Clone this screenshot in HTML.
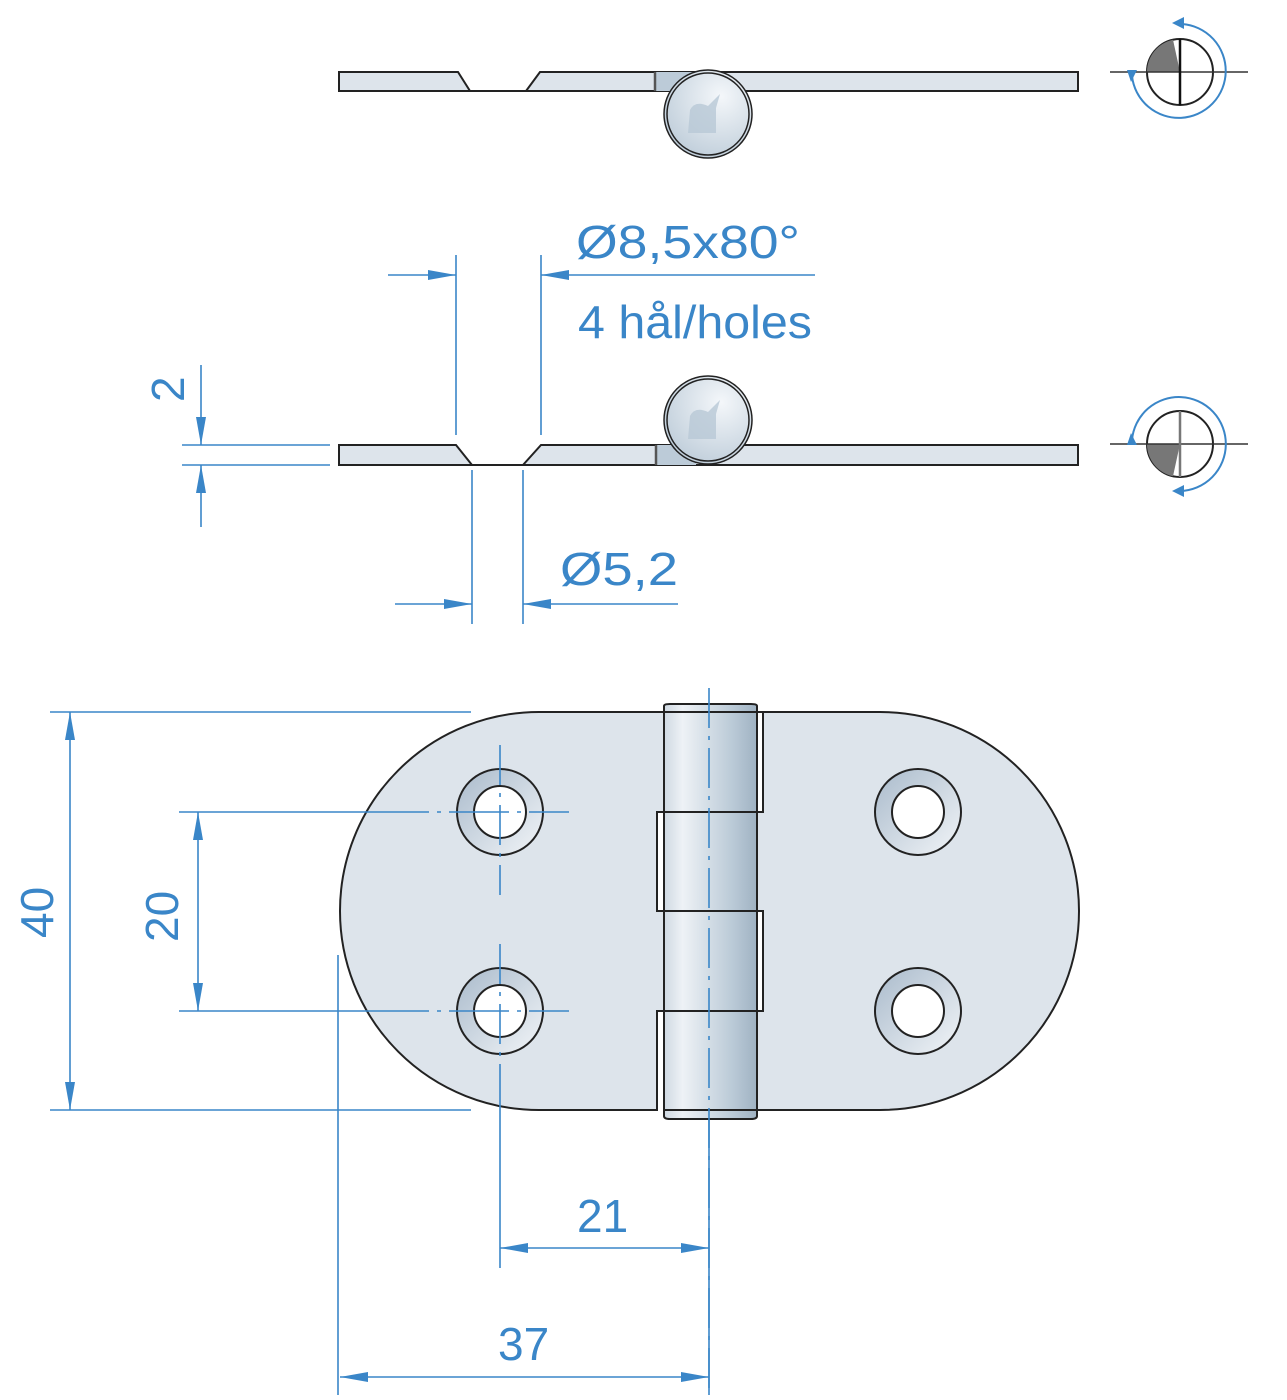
<!DOCTYPE html>
<html><head><meta charset="utf-8"><style>
html,body{margin:0;padding:0;background:#fff}
svg{display:block}
text{font-family:"Liberation Sans Narrow","Liberation Sans",sans-serif;fill:#3a86c8}
</style></head><body>
<svg width="1287" height="1400" viewBox="0 0 1287 1400" xmlns="http://www.w3.org/2000/svg">
<defs>
<linearGradient id="kn" x1="0" x2="1" y1="0" y2="0">
<stop offset="0" stop-color="#cfd9e2"/><stop offset="0.2" stop-color="#eef2f6"/><stop offset="0.75" stop-color="#b9c9d6"/><stop offset="1" stop-color="#9fb2c2"/></linearGradient>
<radialGradient id="ball" cx="0.65" cy="0.3" r="0.8"><stop offset="0" stop-color="#f4f7fa"/><stop offset="1" stop-color="#bccbd8"/></radialGradient>
<linearGradient id="ring" x1="0" x2="1" y1="0" y2="1"><stop offset="0" stop-color="#a9bacb"/><stop offset="1" stop-color="#f2f5f8"/></linearGradient>
<marker id="ar" viewBox="0 0 28 12" refX="28" refY="6" markerWidth="28" markerHeight="12" markerUnits="userSpaceOnUse" orient="auto" preserveAspectRatio="none"><path d="M0,1 L28,6 L0,11z" fill="#3a86c8"/></marker>
</defs>

<!-- ===== Top side view ===== -->
<g stroke="#222" stroke-width="2">
<path d="M339,72 H458 L470,91 H339z" fill="#dde4eb"/>
<path d="M540,72 H1078 V91 H526z" fill="#dde4eb"/>
<rect x="655" y="72" width="40" height="19" fill="#bccbd8" stroke="none"/>
<line x1="655" y1="72" x2="655" y2="91" stroke-width="2.5" stroke="#555"/>
<line x1="470" y1="91" x2="526" y2="91"/>
<circle cx="708" cy="114" r="44" fill="url(#ball)" stroke-width="1.5"/>
<circle cx="708" cy="114" r="41" fill="none" stroke-width="1.5"/>
</g>
<path d="M690,110 q5,-10 18,-4 l12,-12 l-4,14 v25 h-28 z" fill="#b8c8d6" opacity="0.8"/>

<!-- ===== Middle side view ===== -->
<g stroke="#222" stroke-width="2">
<path d="M339,445 H456 L472,465 H339z" fill="#dde4eb"/>
<path d="M541,445 H1078 V465 H523z" fill="#dde4eb"/>
<rect x="656" y="445" width="40" height="20" fill="#bccbd8" stroke="none"/>
<line x1="656" y1="445" x2="656" y2="465" stroke="#555" stroke-width="2.5"/>
<line x1="472" y1="465" x2="523" y2="465"/>
<circle cx="708" cy="420" r="44" fill="url(#ball)" stroke-width="1.5"/>
<circle cx="708" cy="420" r="41" fill="none" stroke-width="1.5"/>
</g>
<path d="M690,416 q5,-10 18,-4 l12,-12 l-4,14 v25 h-28 z" fill="#b8c8d6" opacity="0.8"/>

<!-- dims middle -->
<g stroke="#3a86c8" stroke-width="1.6" fill="none">
<line x1="456" y1="255" x2="456" y2="435"/>
<line x1="541" y1="255" x2="541" y2="435"/>
<line x1="388" y1="275" x2="456" y2="275" marker-end="url(#ar)"/>
<line x1="815" y1="275" x2="541" y2="275" marker-end="url(#ar)"/>
<line x1="472" y1="470" x2="472" y2="624"/>
<line x1="523" y1="470" x2="523" y2="624"/>
<line x1="395" y1="604" x2="472" y2="604" marker-end="url(#ar)"/>
<line x1="678" y1="604" x2="523" y2="604" marker-end="url(#ar)"/>
<line x1="182" y1="445" x2="330" y2="445"/>
<line x1="182" y1="465" x2="330" y2="465"/>
<line x1="201" y1="365" x2="201" y2="445" marker-end="url(#ar)"/>
<line x1="201" y1="527" x2="201" y2="465" marker-end="url(#ar)"/>
</g>
<text x="576" y="258" font-size="46" textLength="224" lengthAdjust="spacingAndGlyphs">Ø8,5x80°</text>
<text x="578" y="338" font-size="46" textLength="234" lengthAdjust="spacingAndGlyphs">4 hål/holes</text>
<text x="560" y="585" font-size="46" textLength="118" lengthAdjust="spacingAndGlyphs">Ø5,2</text>
<text transform="translate(184,402) rotate(-90)" font-size="46">2</text>

<!-- ===== Rotation symbols ===== -->
<g>
<circle cx="1180" cy="72" r="33" fill="#fff" stroke="#222" stroke-width="2"/>
<path d="M1180,72 L1147,72 A33,33 0 0 1 1173,39.7z" fill="#777"/>
<line x1="1110" y1="72" x2="1248" y2="72" stroke="#333" stroke-width="1.5"/>
<line x1="1180" y1="39" x2="1180" y2="105" stroke="#111" stroke-width="2.5"/>
<path d="M1182,24 A47,47 0 1 1 1132,76" fill="none" stroke="#3a86c8" stroke-width="2"/>
<path d="M1172,23 l12,-6 l0,12z" fill="#3a86c8"/>
<path d="M1131,82 l-4,-12 l10,0z" fill="#3a86c8"/>

<circle cx="1180" cy="444" r="33" fill="#fff" stroke="#222" stroke-width="2"/>
<path d="M1180,444 L1147,444 A33,33 0 0 0 1173,476.3z" fill="#777"/>
<line x1="1110" y1="444" x2="1248" y2="444" stroke="#333" stroke-width="1.5"/>
<line x1="1180" y1="411" x2="1180" y2="477" stroke="#777" stroke-width="2.5"/>
<path d="M1132,440 A47,47 0 1 1 1180,491" fill="none" stroke="#3a86c8" stroke-width="2"/>
<path d="M1131,433 l-4,12 l10,0z" fill="#3a86c8"/>
<path d="M1172,491 l12,-6 l0,12z" fill="#3a86c8"/>
</g>

<!-- ===== Plan view ===== -->
<g stroke="#222" stroke-width="2" fill="#dde4eb">
<path d="M664,712 H539 A199,199 0 0 0 539,1110 H657 V1011 H664 V911 H657 V812 H664 Z"/>
<path d="M757,712 H880 A199,199 0 0 1 880,1110 H757 V1011 H763 V911 H757 V812 H763 V712 Z"/>
<path d="M664,712 V706 q0,-2 6,-2 H751 q6,0 6,2 V1116 q0,3 -6,3 H670 q-6,0 -6,-3 Z" fill="url(#kn)"/>
<line x1="657" y1="812" x2="763" y2="812"/>
<line x1="657" y1="911" x2="763" y2="911"/>
<line x1="657" y1="1011" x2="763" y2="1011"/>
<line x1="664" y1="712" x2="757" y2="712"/>
<line x1="664" y1="1110" x2="757" y2="1110"/>
</g>
<g stroke="#222" stroke-width="2">
<circle cx="500" cy="812" r="43" fill="url(#ring)"/><circle cx="500" cy="812" r="26" fill="#fff"/>
<circle cx="500" cy="1011" r="43" fill="url(#ring)"/><circle cx="500" cy="1011" r="26" fill="#fff"/>
<circle cx="918" cy="812" r="43" fill="url(#ring)"/><circle cx="918" cy="812" r="26" fill="#fff"/>
<circle cx="918" cy="1011" r="43" fill="url(#ring)"/><circle cx="918" cy="1011" r="26" fill="#fff"/>
</g>

<g stroke="#3a86c8" stroke-width="1.6" fill="none">
<line x1="50" y1="712" x2="471" y2="712"/>
<line x1="50" y1="1110" x2="471" y2="1110"/>
<line x1="70" y1="911" x2="70" y2="712" marker-end="url(#ar)"/>
<line x1="70" y1="911" x2="70" y2="1110" marker-end="url(#ar)"/>
<line x1="179" y1="812" x2="570" y2="812" stroke-dasharray="250,8,4,8,60,8,4,8,40"/>
<line x1="179" y1="1011" x2="570" y2="1011" stroke-dasharray="250,8,4,8,60,8,4,8,40"/>
<line x1="198" y1="911" x2="198" y2="812" marker-end="url(#ar)"/>
<line x1="198" y1="911" x2="198" y2="1011" marker-end="url(#ar)"/>
<line x1="500" y1="745" x2="500" y2="895" stroke-dasharray="40,8,4,8"/>
<line x1="500" y1="944" x2="500" y2="1268" stroke-dasharray="40,8,4,8,40,8,4,8,400"/>
<line x1="709" y1="688" x2="709" y2="1395" stroke-dasharray="40,8,4,8"/>
<line x1="338" y1="955" x2="338" y2="1395"/>
<line x1="600" y1="1248" x2="500" y2="1248" marker-end="url(#ar)"/>
<line x1="600" y1="1248" x2="709" y2="1248" marker-end="url(#ar)"/>
<line x1="520" y1="1377" x2="340" y2="1377" marker-end="url(#ar)"/>
<line x1="520" y1="1377" x2="709" y2="1377" marker-end="url(#ar)"/>
</g>
<line x1="709" y1="1120" x2="709" y2="1395" stroke="#3a86c8" stroke-width="1.6"/>
<text transform="translate(53,938) rotate(-90)" font-size="46">40</text>
<text transform="translate(178,942) rotate(-90)" font-size="46">20</text>
<text x="577" y="1232" font-size="46">21</text>
<text x="498" y="1360" font-size="46">37</text>
</svg>
</body></html>
